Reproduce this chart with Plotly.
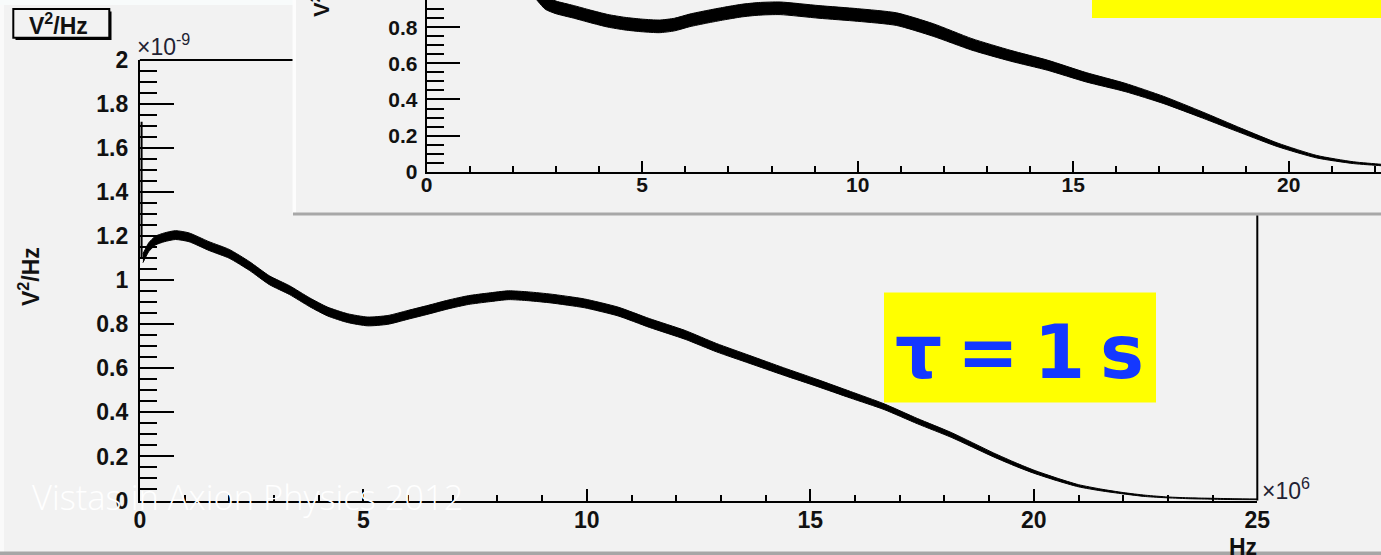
import plotly.graph_objects as go

W, H = 1381, 555

# Power spectral density, tau = 1 s  (frequency in MHz, PSD in units of 1e-9 V^2/Hz)
freq_main = [0.07, 0.12, 0.2, 0.35, 0.55, 0.8, 1.1, 1.55, 2.0, 2.45,
             2.9, 3.35, 3.8, 4.2, 4.65, 5.1, 5.55, 6.0, 6.45, 6.9,
             7.35, 7.8, 8.25, 8.7, 9.2, 9.6, 9.95, 10.7, 11.4, 12.2,
             12.9, 13.65, 14.4, 15.15, 15.9, 16.65, 17.4, 18.15, 19.1, 19.6,
             20.0, 20.5, 21.0, 21.5, 22.0, 22.5, 23.0, 23.5, 24.0, 24.5,
             25.0]
psd_main = [1.10, 1.12, 1.15, 1.18, 1.195, 1.205, 1.195, 1.155, 1.12, 1.065,
            1.00, 0.955, 0.90, 0.858, 0.828, 0.813, 0.82, 0.843, 0.866, 0.89,
            0.91, 0.922, 0.932, 0.927, 0.917, 0.906, 0.895, 0.858, 0.806, 0.752,
            0.694, 0.64, 0.586, 0.534, 0.48, 0.426, 0.36, 0.298, 0.207, 0.163,
            0.131, 0.097, 0.067, 0.048, 0.033, 0.021, 0.014, 0.010, 0.008, 0.006,
            0.005]
# half-width of the fluctuation band around psd_main
noise_main = [0.02, 0.02, 0.02, 0.02, 0.02, 0.02, 0.02, 0.02, 0.02, 0.02,
              0.02, 0.02, 0.02, 0.02, 0.02, 0.02, 0.02, 0.02, 0.02, 0.02,
              0.02, 0.02, 0.02, 0.02, 0.02, 0.02, 0.02, 0.02, 0.02, 0.02,
              0.019, 0.018, 0.017, 0.016, 0.015, 0.013, 0.012, 0.011, 0.009, 0.008,
              0.007, 0.006, 0.005, 0.004, 0.003, 0.003, 0.002, 0.002, 0.002, 0.002,
              0.002]
# first (DC) bin
dc_freq = [0.04, 0.04]
dc_psd = [1.10, 1.72]

# Shorter-integration spectrum shown in the upper panel
freq_inset = [0.05, 0.5, 1.0, 1.5, 2.0, 2.5, 2.75, 3.0, 3.4, 3.8,
              4.2, 4.6, 5.0, 5.4, 5.75, 6.1, 6.5, 6.9, 7.3, 7.7,
              8.2, 9.1, 10.0, 10.9, 11.75, 12.65, 13.55, 14.4, 15.3, 16.2,
              17.1, 18.0, 18.9, 19.75, 20.65, 21.5, 22.15, 23.0, 25.0]
psd_inset = [1.12, 1.19, 1.20, 1.16, 1.10, 1.00, 0.935, 0.91, 0.886, 0.86,
             0.836, 0.82, 0.81, 0.805, 0.815, 0.838, 0.858, 0.876, 0.892, 0.902,
             0.905, 0.885, 0.868, 0.845, 0.785, 0.705, 0.642, 0.59, 0.523, 0.467,
             0.397, 0.314, 0.227, 0.148, 0.083, 0.05, 0.037, 0.02, 0.005]
noise_inset = [0.035, 0.035, 0.035, 0.035, 0.035, 0.035, 0.035, 0.035, 0.035, 0.035,
               0.035, 0.035, 0.035, 0.035, 0.035, 0.035, 0.035, 0.035, 0.035, 0.035,
               0.035, 0.035, 0.035, 0.035, 0.035, 0.032, 0.03, 0.028, 0.026, 0.023,
               0.02, 0.017, 0.013, 0.01, 0.007, 0.005, 0.004, 0.003, 0.002]

y_ticks_main = [0, 0.2, 0.4, 0.6, 0.8, 1, 1.2, 1.4, 1.6, 1.8, 2]
x_ticks_main = [0, 5, 10, 15, 20, 25]


def fx(p):
    return p / W


def fy(p):
    return 1 - p / H


BG = "#f2f2f2"
LABEL_FONT = dict(family="Liberation Sans, Arial, sans-serif", color="#111111", weight="bold")


def band(x, mid, half, xa, ya):
    lower = [m - h for m, h in zip(mid, half)]
    upper = [m + h for m, h in zip(mid, half)]
    return [
        go.Scatter(x=x, y=lower, mode="lines", xaxis=xa, yaxis=ya,
                   line=dict(color="black", width=1, shape="spline", smoothing=0.6),
                   hoverinfo="skip", showlegend=False),
        go.Scatter(x=x, y=upper, mode="lines", xaxis=xa, yaxis=ya, fill="tonexty",
                   fillcolor="black",
                   line=dict(color="black", width=1, shape="spline", smoothing=0.6),
                   hoverinfo="skip", showlegend=False),
    ]


fig = go.Figure()
for tr in band(freq_main, psd_main, noise_main, "x", "y"):
    fig.add_trace(tr)
fig.add_trace(go.Scatter(x=dc_freq, y=dc_psd, mode="lines", line=dict(color="black", width=2),
                         showlegend=False, hoverinfo="skip"))
for tr in band(freq_inset, psd_inset, noise_inset, "x2", "y2"):
    fig.add_trace(tr)

common = dict(showgrid=False, zeroline=False, showline=True, linecolor="black", linewidth=2,
              ticks="inside", tickcolor="black", tickwidth=1.5)


def minor(dt, ln):
    return dict(dtick=dt, ticklen=ln, tickwidth=1.5, tickcolor="black", ticks="inside", showgrid=False)


fig.update_layout(
    width=W, height=H, margin=dict(l=0, r=0, t=0, b=0, autoexpand=False),
    paper_bgcolor=BG, plot_bgcolor="rgba(0,0,0,0)", showlegend=False,
    xaxis=dict(common, domain=[fx(139.8), fx(1257.3)], range=[0, 25], tickvals=x_ticks_main,
               ticklen=12, minor=minor(1, 6), anchor="y",
               tickfont=dict(LABEL_FONT, size=23), ticklabelstandoff=-2),
    yaxis=dict(common, domain=[fy(500.5), fy(60)], range=[0, 2], tickvals=y_ticks_main,
               ticklen=34, minor=minor(0.05, 17), anchor="x",
               tickfont=dict(LABEL_FONT, size=23), ticklabelstandoff=5),
    xaxis2=dict(common, domain=[fx(426.7), 1], range=[0, 22.14], dtick=5, tick0=0,
                ticklen=11, minor=minor(1, 6), anchor="y2",
                tickfont=dict(LABEL_FONT, size=21), ticklabelstandoff=-7),
    yaxis2=dict(common, domain=[fy(171.7), 1], range=[0, 0.951], dtick=0.2, tick0=0,
                ticklen=33, minor=minor(0.05, 17), anchor="x2",
                tickfont=dict(LABEL_FONT, size=21), ticklabelstandoff=3),
)


def rect(x0, y0, x1, y1, fill, layer="below", line=None):
    d = dict(type="rect", xref="paper", yref="paper", x0=fx(x0), x1=fx(x1), y0=fy(y1), y1=fy(y0),
             fillcolor=fill, layer=layer, line=dict(width=0))
    if line:
        d["line"] = line
    return d


def seg(x0, y0, x1, y1, width=2, color="black", layer="below"):
    return dict(type="line", xref="paper", yref="paper", x0=fx(x0), x1=fx(x1), y0=fy(y0), y1=fy(y1),
                line=dict(color=color, width=width), layer=layer)


shapes = [
    # canvas bevel
    rect(0, 0, 4, H, "#fafafa"),
    rect(0, 0, 293, 5, "#f8fbfb"),
    rect(0, 551.5, W, H, "#a6a6a6"),
    # upper panel
    rect(293, 0, W, 213, BG),
    rect(292.5, 0, 296, 213, "#fdfdfd"),
    rect(293, 212.5, W, 215.5, "#a8a8a8"),
    # remaining frame edges of the main pad
    seg(139.8, 60, 292.5, 60),
    seg(1257.3, 215.5, 1257.3, 500.5),
    # title box with shadow
    rect(15.5, 11.5, 111.5, 40, "black"),
    rect(13.3, 9, 109.3, 37.7, BG, line=dict(color="black", width=2)),
    # highlight boxes
    rect(1092, 0, W, 18, "#ffff00", layer="above"),
    rect(884, 292.5, 1156, 402.5, "#ffff00", layer="above"),
]
fig.update_layout(shapes=shapes)


def ann(text, x, y, size, xanchor="center", yanchor="middle", angle=0, font=None, color="#111111"):
    f = dict(font or LABEL_FONT)
    f.update(size=size, color=color)
    fig.add_annotation(text=text, xref="paper", yref="paper", x=fx(x), y=fy(y), showarrow=False,
                       xanchor=xanchor, yanchor=yanchor, textangle=angle, font=f)


REG = dict(family="Liberation Sans, Arial, sans-serif", weight="normal")
ann("V<sup>2</sup>/Hz", 59, 23.5, 23)
ann("V<sup>2</sup>/Hz", 29, 277, 23, angle=-90)
ann("V<sup>2</sup>/Hz", 320, 19, 22, angle=-90, yanchor="bottom")
ann("×10<sup>-9</sup>", 135, 45, 23, xanchor="left", font=REG, color="#222233")
ann("×10<sup>6</sup>", 1260, 489, 23, xanchor="left", font=REG, color="#222233")
ann("Hz", 1259, 532, 23, xanchor="right", yanchor="top")
ann("τ\u2009=\u20091\u2009s", 1019, 352, 74,
    font=dict(family="DejaVu Sans, Verdana, sans-serif", weight="bold"), color="#1438ff")
ann("Vistas in Axion Physics 2012", 30, 496, 34.5, xanchor="left",
    font=dict(family="Open Sans, Lato, sans-serif", weight=300), color="#ffffff")

fig.write_html("out.html")
